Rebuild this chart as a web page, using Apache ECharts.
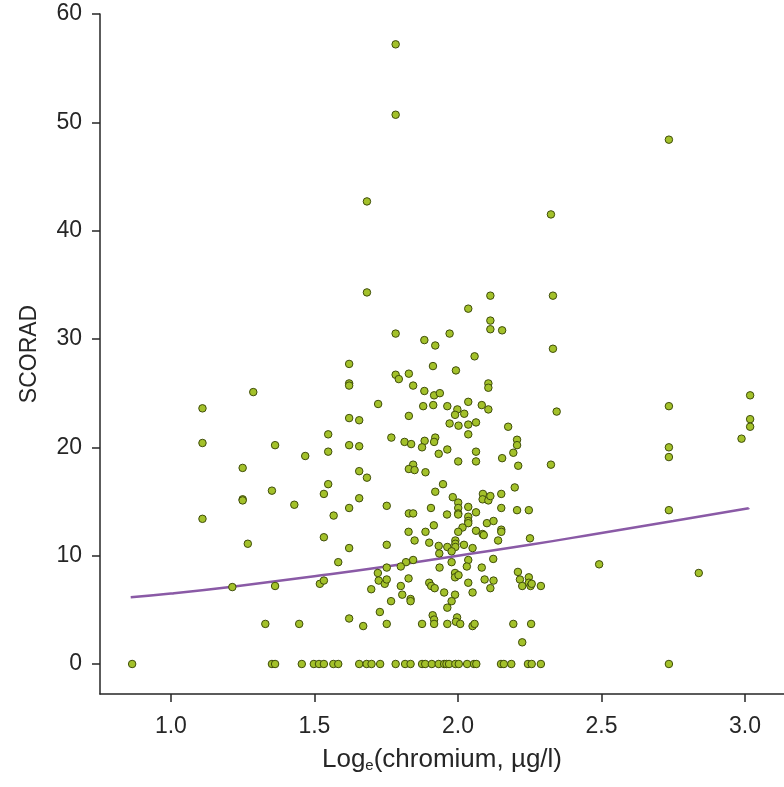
<!DOCTYPE html>
<html>
<head>
<meta charset="utf-8">
<script src="https://cdn.jsdelivr.net/npm/echarts@6/dist/echarts.min.js"></script>
<style>html,body{margin:0;padding:0;background:#fff;}#c{width:784px;height:787px;}</style>
</head>
<body>
<div id="c"></div>
<script>
// Log_e(chromium) values of patients with SCORAD = 0
const zeroScoradChromium = [0.865,1.352,1.363,1.456,1.498,1.516,1.533,1.566,1.583,1.656,1.682,1.699,1.729,1.783,1.816,1.835,1.875,1.886,1.909,1.933,1.952,1.960,1.969,1.991,2.003,2.032,2.056,2.064,2.150,2.160,2.186,2.244,2.257,2.289,2.735];
// [Log_e(chromium), SCORAD] for the remaining patients
const patients = [
[1.783,57.2],[1.783,50.7],[2.735,48.4],[1.683,42.7],[2.324,41.5],[1.683,34.3],[2.113,34.0],[2.331,34.0],
[2.036,32.8],[2.113,31.7],[2.113,30.9],[2.154,30.8],[1.783,30.5],[1.971,30.5],[1.883,29.9],[1.921,29.4],
[2.331,29.1],[2.058,28.4],[1.621,27.7],[1.913,27.5],[1.993,27.1],[1.783,26.7],[1.794,26.3],[1.829,26.8],
[1.621,25.9],[1.621,25.7],[1.844,25.7],[2.106,25.9],[2.106,25.5],[1.883,25.2],[1.917,24.8],[1.937,25.0],
[1.722,24.0],[1.879,23.8],[1.914,23.9],[1.963,23.8],[1.998,23.5],[1.990,23.0],[2.022,23.1],[2.036,24.2],
[2.083,23.9],[2.106,23.5],[2.344,23.3],[1.829,22.9],[1.621,22.7],[1.656,22.5],[1.971,22.2],[2.002,22.0],
[2.036,22.1],[2.063,22.3],[2.036,21.2],[2.175,21.9],[1.768,20.9],[1.814,20.5],[1.837,20.3],[1.884,20.6],
[1.921,20.9],[1.917,20.5],[1.875,20.0],[2.206,20.7],[2.206,20.2],[1.621,20.2],[1.656,20.1],[1.933,19.4],
[1.963,19.8],[2.063,19.6],[2.193,19.5],[2.154,19.0],[2.001,18.7],[2.063,18.7],[2.324,18.4],[2.210,18.3],
[1.844,18.4],[1.829,18.0],[1.849,17.9],[1.887,17.7],[1.656,17.8],[1.683,17.2],[1.948,16.6],[1.921,15.9],
[2.198,16.3],[1.982,15.4],[2.087,15.7],[2.086,15.2],[2.106,15.1],[2.113,15.5],[2.151,15.7],[1.656,15.3],
[2.001,14.9],[2.001,14.4],[2.001,13.9],[2.001,13.8],[1.621,14.4],[1.752,14.6],[1.906,14.4],[2.036,14.5],
[2.151,14.4],[2.206,14.2],[2.247,14.2],[1.829,13.9],[1.844,13.9],[1.962,13.8],[2.063,14.0],[2.036,13.6],
[2.036,13.2],[2.036,13.0],[2.101,13.0],[2.124,13.2],[2.016,12.6],[1.916,12.8],[1.828,12.2],[1.887,12.2],
[2.001,12.2],[2.063,12.3],[2.086,12.0],[2.090,11.9],[2.151,12.4],[2.151,12.2],[2.140,11.4],[2.251,11.6],
[1.849,11.4],[1.900,11.2],[1.991,11.4],[1.991,11.1],[1.991,10.8],[2.021,11.0],[2.051,10.7],[1.933,10.9],
[1.963,10.8],[1.978,10.4],[1.621,10.7],[1.752,11.0],[1.935,10.2],[1.583,9.4],[1.844,9.6],[1.819,9.4],
[1.801,9.0],[1.978,9.4],[2.036,9.6],[2.031,9.0],[2.123,9.7],[2.083,8.9],[1.936,8.9],[1.752,8.9],
[1.721,8.4],[2.209,8.5],[1.828,7.9],[1.724,7.7],[1.745,7.4],[1.752,7.8],[1.698,6.9],[1.990,8.4],
[1.990,8.0],[2.002,8.2],[2.036,7.5],[2.093,7.8],[2.124,7.7],[2.113,7.0],[1.900,7.5],[1.907,7.2],
[1.919,7.0],[1.801,7.2],[2.216,7.8],[2.224,7.2],[2.247,8.0],[2.247,7.5],[2.253,7.2],[2.257,7.4],
[2.289,7.2],[1.806,6.4],[1.835,6.0],[1.835,5.8],[1.952,6.6],[1.990,6.4],[2.051,6.6],[1.767,5.8],
[1.978,5.8],[1.963,5.2],[1.728,4.8],[1.621,4.2],[1.670,3.5],[1.752,3.7],[1.875,3.7],[1.912,4.5],
[1.917,4.1],[1.917,3.7],[1.963,3.7],[1.997,4.3],[1.993,3.9],[2.008,3.7],[2.051,3.5],[2.058,3.7],
[2.193,3.7],[2.255,3.7],[2.224,2.0],[3.018,24.8],[2.735,23.8],[3.018,22.6],[3.018,21.9],[2.988,20.8],
[2.735,20.0],[2.735,19.1],[2.735,14.2],[2.492,9.2],[2.839,8.4],[1.287,25.1],[1.110,23.6],[1.110,20.4],
[1.363,20.2],[1.468,19.2],[1.548,21.2],[1.548,19.6],[1.250,18.1],[1.352,16.0],[1.250,15.2],[1.250,15.1],
[1.430,14.7],[1.533,15.7],[1.548,16.6],[1.567,13.7],[1.110,13.4],[1.268,11.1],[1.533,11.7],[1.214,7.1],
[1.363,7.2],[1.519,7.4],[1.533,7.7],[1.329,3.7],[1.447,3.7]
];
// fitted curve
const fitX = [0.86, 1.0, 1.214, 1.5, 1.75, 2.0, 2.25, 2.5, 2.75, 3.013];
const fitY = [6.15, 6.5, 7.14, 8.1, 9.0, 10.0, 11.0, 12.1, 13.2, 14.37];
// tick labels
const xTicks = [1.0, 1.5, 2.0, 2.5, 3.0];
const yTicks = [0, 10, 20, 30, 40, 50, 60];

const scatterData = zeroScoradChromium.map(x => [x, 0]).concat(patients);
const fitData = fitX.map((x, i) => [x, fitY[i]]);

const txt = '#262626';
const font = 'Liberation Sans, Arial, sans-serif';
const chart = echarts.init(document.getElementById('c'), null, {renderer: 'canvas'});
chart.setOption({
  animation: false,
  backgroundColor: '#ffffff',
  grid: {left: 100, top: 14, right: 0, bottom: 93, containLabel: false},
  xAxis: {
    type: 'value', min: 0.753, max: 3.136,
    splitLine: {show: false},
    axisLine: {show: true, onZero: false, lineStyle: {color: txt, width: 1.5}},
    axisTick: {show: true, length: 8, customValues: xTicks, lineStyle: {color: txt, width: 1.5}},
    axisLabel: {customValues: xTicks, fontSize: 23, color: txt, margin: 21, fontFamily: font,
      formatter: v => v.toFixed(1)},
    name: '{a|Log}{s|e}{a|(chromium, µg/l)}',
    nameLocation: 'middle', nameGap: 48,
    nameTextStyle: {
      color: txt,
      rich: {
        a: {fontSize: 26, color: txt, fontFamily: font, lineHeight: 31, verticalAlign: 'bottom'},
        s: {fontSize: 15, color: txt, fontFamily: font, lineHeight: 15, verticalAlign: 'bottom'}
      }
    }
  },
  yAxis: {
    type: 'value', min: -2.77, max: 60,
    splitLine: {show: false},
    axisLine: {show: true, onZero: false, lineStyle: {color: txt, width: 1.5}},
    axisTick: {show: true, length: 8, customValues: yTicks, lineStyle: {color: txt, width: 1.5}},
    axisLabel: {customValues: yTicks, fontSize: 23, color: txt, margin: 18, fontFamily: font},
    name: 'SCORAD', nameLocation: 'middle', nameGap: 59,
    nameTextStyle: {fontSize: 23, color: txt, fontFamily: font}
  },
  series: [
    {
      type: 'line', data: fitData, smooth: true, showSymbol: false, z: 2,
      lineStyle: {color: '#8a5aa6', width: 2.5}
    },
    {
      type: 'scatter', data: scatterData, symbol: 'circle', symbolSize: 7.5, z: 3,
      itemStyle: {color: '#a3c12a', borderColor: '#3f4d0a', borderWidth: 1, opacity: 1}
    }
  ]
});
</script>
</body>
</html>
